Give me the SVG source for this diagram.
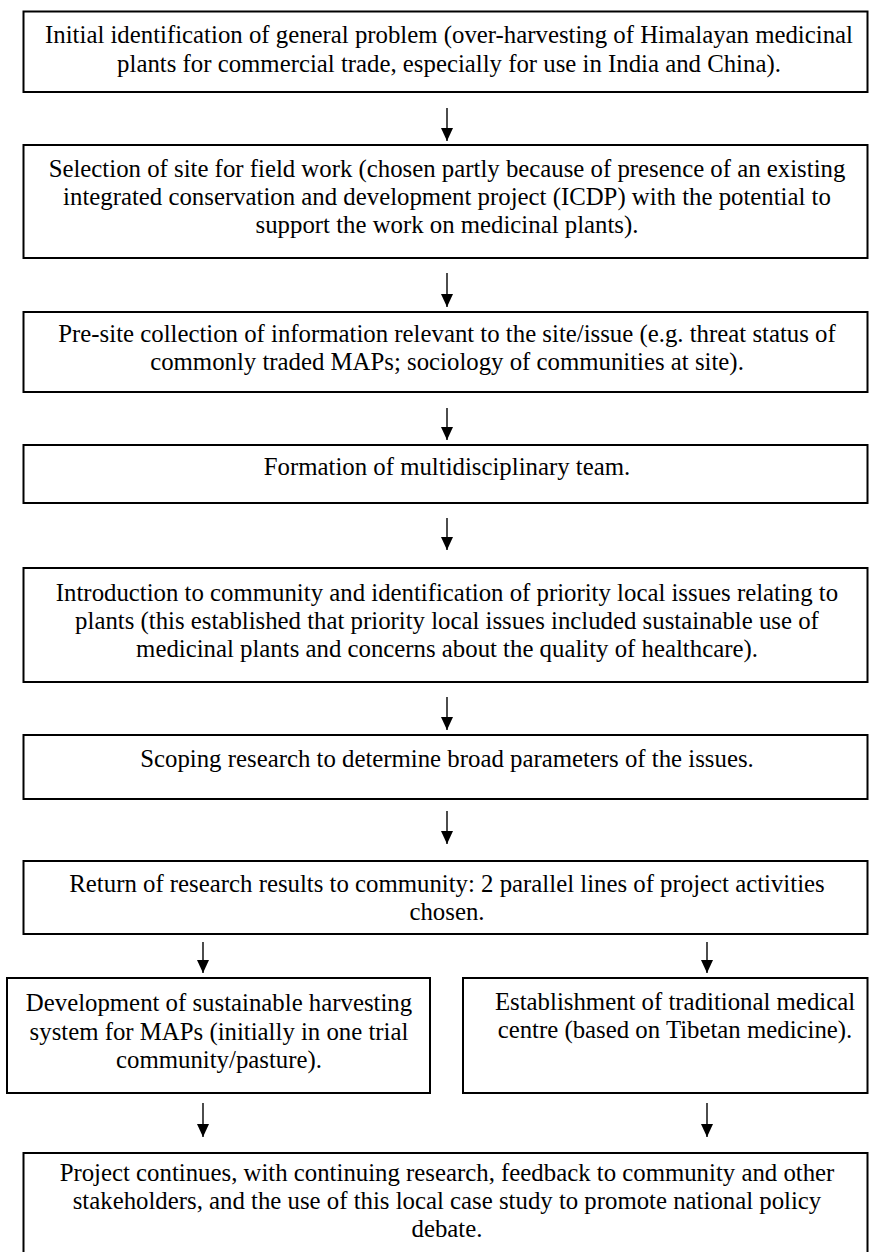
<svg xmlns="http://www.w3.org/2000/svg" width="869" height="1252" viewBox="0 0 869 1252">
<style>
.box{fill:#ffffff;stroke:#000000;stroke-width:2}
.t{font-family:"Liberation Serif","Times New Roman",serif;font-size:24.8px;fill:#000000;text-anchor:middle}
.c{stroke:#000000;stroke-width:1.4;fill:none}
</style>
<defs>
<marker id="ah" viewBox="0 0 13 12" refX="13" refY="6" markerWidth="13" markerHeight="12" markerUnits="userSpaceOnUse" orient="auto">
<path d="M0,0 L13,6 L0,12 z" fill="#000000"/>
</marker>
</defs>
<rect x="0" y="0" width="869" height="1252" fill="#ffffff"/>
<g id="connectors">
<line class="c" x1="447" y1="108" x2="447" y2="141" marker-end="url(#ah)"/>
<line class="c" x1="447" y1="273" x2="447" y2="307" marker-end="url(#ah)"/>
<line class="c" x1="447" y1="408" x2="447" y2="440" marker-end="url(#ah)"/>
<line class="c" x1="447" y1="518" x2="447" y2="550" marker-end="url(#ah)"/>
<line class="c" x1="447" y1="697" x2="447" y2="730" marker-end="url(#ah)"/>
<line class="c" x1="447" y1="811" x2="447" y2="844" marker-end="url(#ah)"/>
<line class="c" x1="203" y1="942" x2="203" y2="973" marker-end="url(#ah)"/>
<line class="c" x1="707" y1="942" x2="707" y2="973" marker-end="url(#ah)"/>
<line class="c" x1="203" y1="1103" x2="203" y2="1137" marker-end="url(#ah)"/>
<line class="c" x1="707" y1="1103" x2="707" y2="1137" marker-end="url(#ah)"/>
</g>
<g id="n1">
<rect class="box" x="23.5" y="11.5" width="844" height="80.5"/>
<text class="t" x="449" y="43">Initial identification of general problem (over-harvesting of Himalayan medicinal</text>
<text class="t" x="449" y="71.5">plants for commercial trade, especially for use in India and China).</text>
</g>
<g id="n2">
<rect class="box" x="23.5" y="145" width="844" height="113"/>
<text class="t" x="447" y="176.5">Selection of site for field work (chosen partly because of presence of an existing</text>
<text class="t" x="447" y="205">integrated conservation and development project (ICDP) with the potential to</text>
<text class="t" x="447" y="233">support the work on medicinal plants).</text>
</g>
<g id="n3">
<rect class="box" x="23.5" y="312" width="844" height="80"/>
<text class="t" x="447" y="342">Pre-site collection of information relevant to the site/issue (e.g. threat status of</text>
<text class="t" x="447" y="370">commonly traded MAPs; sociology of communities at site).</text>
</g>
<g id="n4">
<rect class="box" x="23.5" y="445" width="844" height="58"/>
<text class="t" x="447" y="475">Formation of multidisciplinary team.</text>
</g>
<g id="n5">
<rect class="box" x="23.5" y="568" width="844" height="114"/>
<text class="t" x="447" y="601">Introduction to community and identification of priority local issues relating to</text>
<text class="t" x="447" y="629">plants (this established that priority local issues included sustainable use of</text>
<text class="t" x="447" y="657">medicinal plants and concerns about the quality of healthcare).</text>
</g>
<g id="n6">
<rect class="box" x="23.5" y="735" width="844" height="64"/>
<text class="t" x="447" y="767">Scoping research to determine broad parameters of the issues.</text>
</g>
<g id="n7">
<rect class="box" x="23.5" y="861" width="844" height="73"/>
<text class="t" x="447" y="892">Return of research results to community: 2 parallel lines of project activities</text>
<text class="t" x="447" y="920">chosen.</text>
</g>
<g id="n8">
<rect class="box" x="7" y="978" width="423" height="115"/>
<text class="t" x="219" y="1011">Development of sustainable harvesting</text>
<text class="t" x="219" y="1039.5">system for MAPs (initially in one trial</text>
<text class="t" x="219" y="1068">community/pasture).</text>
</g>
<g id="n9">
<rect class="box" x="463" y="978" width="404.5" height="115"/>
<text class="t" x="675" y="1010">Establishment of traditional medical</text>
<text class="t" x="675" y="1038">centre (based on Tibetan medicine).</text>
</g>
<g id="n10">
<rect class="box" x="23.5" y="1153" width="844" height="110"/>
<text class="t" x="447" y="1181">Project continues, with continuing research, feedback to community and other</text>
<text class="t" x="447" y="1208.5">stakeholders, and the use of this local case study to promote national policy</text>
<text class="t" x="447" y="1236.5">debate.</text>
</g>
</svg>
